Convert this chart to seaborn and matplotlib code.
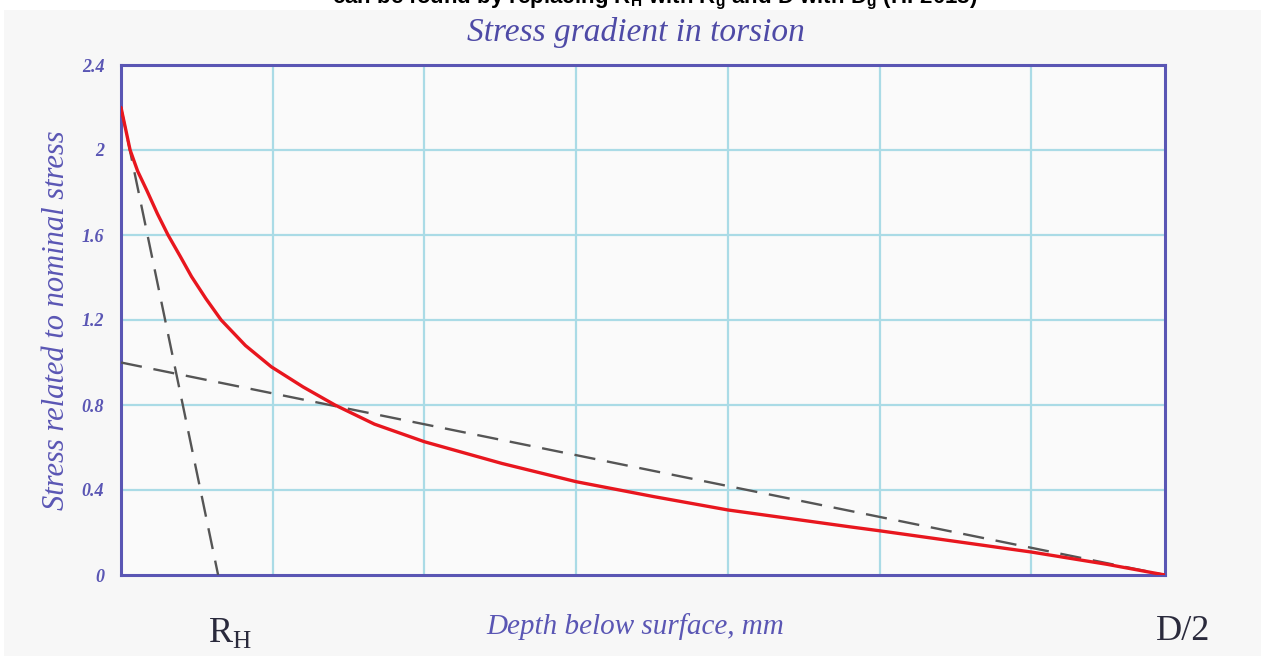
import numpy as np
import pandas as pd
import matplotlib
matplotlib.use('Agg')
import matplotlib.pyplot as plt
import seaborn as sns
from matplotlib.patches import Rectangle

# stress curve (depth in grid units, D/2 at ~6.88)
depth = [0.0, 0.03, 0.06, 0.11, 0.17, 0.24, 0.31, 0.39, 0.465, 0.56, 0.66, 0.82, 0.99, 1.2, 1.41,
         1.67, 2.0, 2.51, 3.0, 3.51, 4.0, 4.8, 5.0, 5.5, 6.0, 6.5, 6.88]
stress = [2.20, 2.10, 2.0, 1.9, 1.81, 1.70, 1.6, 1.5, 1.404, 1.30, 1.2, 1.08, 0.98, 0.885, 0.8,
          0.71, 0.627, 0.525, 0.439, 0.369, 0.306, 0.227, 0.208, 0.158, 0.108, 0.05, 0.0]

# dashed tangent lines
tangent_x = [0.0, 0.64]
tangent_y = [2.20, 0.0]
linear_x = [0.0, 6.88]
linear_y = [1.0, 0.0]

yticks = [0, 0.4, 0.8, 1.2, 1.6, 2.0, 2.4]
ytick_labels = ['0', '0.4', '0.8', '1.2', '1.6', '2', '2.4']
xgrid = [1, 2, 3, 4, 5, 6]

purple = '#5a56b4'
grid_c = '#aadbe6'

sns.set_theme(style='white')
plt.rcParams['font.family'] = ['Liberation Serif', 'DejaVu Serif']

fig = plt.figure(figsize=(12.61, 6.56), dpi=100)
fig.patch.set_facecolor('white')
fig.patches.append(Rectangle((0.003, 0), 0.997, 1 - 10/656, transform=fig.transFigure,
                             facecolor='#f7f7f7', edgecolor='none', zorder=-5))

ax = fig.add_axes([121/1261, 1 - 575/656, (1165-121)/1261, (575-65)/656])
ax.set_zorder(2)
ax.set_facecolor('#fafafa')

df = pd.DataFrame({'depth': depth, 'stress': stress})
sns.lineplot(data=df, x='depth', y='stress', color='#e8161e', lw=2.4, ax=ax,
             sort=False, zorder=4)
sns.lineplot(x=tangent_x, y=tangent_y, color='#555555', lw=1.7, ax=ax,
             zorder=3).lines[-1].set_dashes([9, 5])
sns.lineplot(x=linear_x, y=linear_y, color='#555555', lw=1.7, ax=ax,
             zorder=3).lines[-1].set_dashes([9, 5])

ax.set_xlim(0, 6.88)
ax.set_ylim(0, 2.4)
for gx in xgrid:
    ax.axvline(gx, color=grid_c, lw=1.6, zorder=1)
for gy in yticks[1:-1]:
    ax.axhline(gy, color=grid_c, lw=1.6, zorder=1)

ax.set_xticks([])
ax.set_yticks(yticks)
ax.set_yticklabels(ytick_labels, fontstyle='italic', fontweight='bold', color=purple, fontsize=13)
ax.tick_params(axis='y', length=0, pad=12)
for s in ax.spines.values():
    s.set_color(purple)
    s.set_linewidth(2.2)
    s.set_visible(True)

ax.set_xlabel('')
ax.set_ylabel('Stress related to nominal stress', fontstyle='italic', color=purple,
              fontsize=22, labelpad=8)

fig.text(636/1261, 1 - 32/656, 'Stress gradient in torsion', ha='center', va='center',
         fontstyle='italic', color='#4e4aa6', fontsize=24)
fig.text(635/1261, 1 - 627/656, 'Depth below surface, mm', ha='center', va='center',
         fontstyle='italic', color=purple, fontsize=21)
fig.text(230/1261, 1 - 633/656, r'R$_{\mathregular{H}}$', ha='center', va='center',
         color='#2a2a3c', fontsize=26)
fig.text(1183/1261, 1 - 632/656, 'D/2', ha='center', va='center',
         color='#2a2a3c', fontsize=26)
# caption from the page above, cut off at the top edge
fig.text(655/1261, 1 + 1/656, r'can be found by replacing R$_\mathregular{H}$ with R$_\mathregular{g}$ and D with D$_\mathregular{g}$ (HF2018)',
         ha='center', va='center', color='black', fontsize=16, fontweight='bold',
         family=['Liberation Sans', 'DejaVu Sans'])

fig.savefig('out.png', dpi=100)
